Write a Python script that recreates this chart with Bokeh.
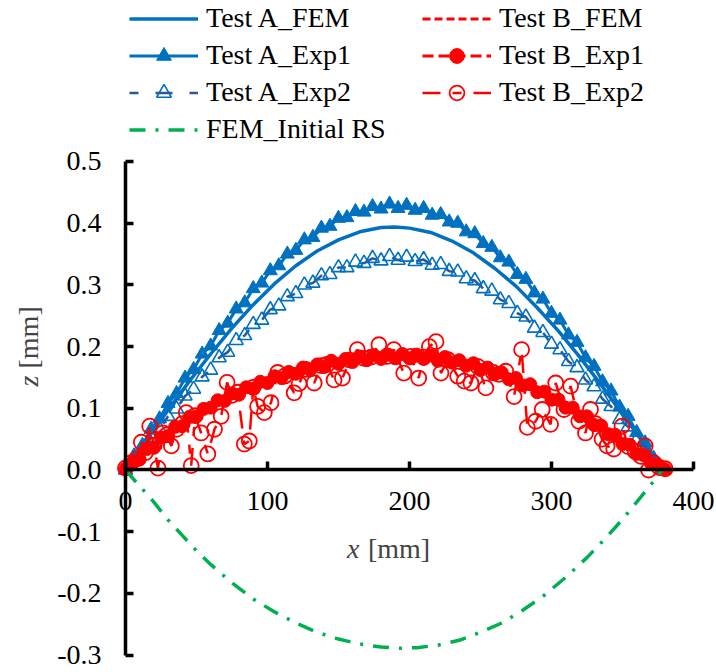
from bokeh.plotting import figure
from bokeh.models import Range1d, FixedTicker, Legend, LegendItem, Label
from bokeh.embed import file_html
from bokeh.resources import INLINE

# ---------------- data ----------------
x_ticks = [0, 100, 200, 300, 400]
y_ticks = [-0.3, -0.2, -0.1, 0.0, 0.1, 0.2, 0.3, 0.4, 0.5]
y_tick_labels = ["-0.3", "-0.2", "-0.1", "0.0", "0.1", "0.2", "0.3", "0.4", "0.5"]

a_fem_x = [0, 15, 30, 45, 60, 75, 90, 105, 120, 135, 150, 165, 180, 190, 200, 215,
           230, 245, 260, 275, 290, 305, 320, 335, 350, 365, 378]
a_fem_y = [0.0, 0.049, 0.097, 0.144, 0.188, 0.230, 0.268, 0.302, 0.331, 0.355, 0.373,
           0.386, 0.393, 0.394, 0.392, 0.385, 0.371, 0.352, 0.327, 0.298, 0.263, 0.225,
           0.183, 0.138, 0.091, 0.043, 0.0]

a_exp_x = [0, 6, 12, 18, 24, 30, 36, 42, 48, 54, 60, 66, 72, 78, 84, 90, 96, 102, 108,
           114, 120, 126, 132, 138, 144, 150, 156, 162, 168, 174, 180, 186, 192, 198,
           204, 210, 216, 222, 228, 234, 240, 246, 252, 258, 264, 270, 276, 282, 288,
           294, 300, 306, 312, 318, 324, 330, 336, 342, 348, 354, 360, 366, 372, 378]
a_exp1_y = [0.0, 0.023, 0.040, 0.066, 0.083, 0.108, 0.124, 0.149, 0.163, 0.188, 0.201,
            0.226, 0.238, 0.261, 0.271, 0.294, 0.303, 0.323, 0.331, 0.350, 0.356, 0.373,
            0.377, 0.392, 0.395, 0.408, 0.409, 0.419, 0.418, 0.427, 0.423, 0.431, 0.424,
            0.429, 0.421, 0.424, 0.413, 0.414, 0.402, 0.400, 0.386, 0.383, 0.367, 0.361,
            0.344, 0.337, 0.317, 0.309, 0.287, 0.277, 0.254, 0.243, 0.219, 0.207, 0.182,
            0.168, 0.143, 0.128, 0.102, 0.087, 0.061, 0.044, 0.019, 0.0]
a_exp2_y = [0.0, 0.018, 0.032, 0.053, 0.066, 0.087, 0.099, 0.120, 0.131, 0.151, 0.162,
            0.182, 0.191, 0.210, 0.218, 0.236, 0.243, 0.260, 0.266, 0.281, 0.286, 0.300,
            0.303, 0.315, 0.317, 0.328, 0.328, 0.337, 0.335, 0.343, 0.339, 0.346, 0.340,
            0.345, 0.338, 0.341, 0.332, 0.333, 0.322, 0.321, 0.310, 0.307, 0.294, 0.290,
            0.276, 0.270, 0.254, 0.248, 0.230, 0.223, 0.204, 0.195, 0.176, 0.166, 0.146,
            0.135, 0.115, 0.103, 0.082, 0.070, 0.049, 0.036, 0.015, 0.0]

b_fem_x = [0, 15, 30, 45, 60, 75, 90, 105, 120, 135, 150, 165, 180, 195, 210, 225, 240,
           255, 270, 285, 300, 315, 330, 345, 360, 372, 380]
b_fem_y = [0.0, 0.030, 0.058, 0.082, 0.103, 0.120, 0.135, 0.148, 0.159, 0.168, 0.175,
           0.180, 0.183, 0.184, 0.183, 0.179, 0.172, 0.162, 0.150, 0.135, 0.117, 0.097,
           0.076, 0.053, 0.029, 0.010, 0.0]

b_exp1_x = [0, 5, 10, 15, 20, 25, 30, 35, 40, 45, 50, 55, 60, 65, 70, 75, 80, 85, 90, 95,
            100, 105, 110, 115, 120, 125, 130, 135, 140, 145, 150, 155, 160, 165, 170,
            175, 180, 185, 190, 195, 200, 205, 210, 215, 220, 225, 230, 235, 240, 245,
            250, 255, 260, 265, 270, 275, 280, 285, 290, 295, 300, 305, 310, 315, 320,
            325, 330, 335, 340, 345, 350, 355, 360, 365, 370, 375, 380]
b_exp1_y = [0.002, 0.012, 0.017, 0.034, 0.036, 0.053, 0.055, 0.070, 0.071, 0.086, 0.087,
            0.099, 0.101, 0.113, 0.112, 0.124, 0.122, 0.134, 0.132, 0.143, 0.141, 0.152,
            0.149, 0.159, 0.156, 0.166, 0.162, 0.171, 0.167, 0.177, 0.172, 0.180, 0.175,
            0.184, 0.178, 0.186, 0.180, 0.187, 0.181, 0.188, 0.181, 0.187, 0.180, 0.186,
            0.177, 0.183, 0.174, 0.178, 0.169, 0.173, 0.162, 0.166, 0.155, 0.158, 0.147,
            0.149, 0.137, 0.139, 0.126, 0.127, 0.114, 0.114, 0.101, 0.101, 0.087, 0.087,
            0.073, 0.072, 0.058, 0.057, 0.042, 0.041, 0.026, 0.024, 0.011, 0.008, 0.001]

b_exp2_x = [0, 4, 8, 11.2, 14, 17.1, 20, 22.9, 26.4, 29, 32.3, 36, 40, 42.8, 46.3, 49,
            53.3, 58, 62.7, 67.4, 71.6, 75, 79, 83.7, 87.2, 90, 93.1, 97.8, 102.5, 107.2,
            112, 118.8, 122.3, 127, 132.9, 138, 142, 146.9, 152.8, 158, 163.3, 168, 173,
            178.5, 184, 189, 196, 201, 206.5, 210, 214, 218.7, 222.2, 227, 234, 238.6,
            243.3, 248, 253.8, 259, 263, 267.8, 273.7, 279, 283, 288.9, 293.5, 299.4,
            303, 308.8, 313.5, 319.3, 324, 327.5, 331, 335.7, 339.2, 343.9, 349.7, 354,
            359, 363, 366, 368.4, 372, 376, 380.1]
b_exp2_y = [0.003, 0.012, 0.018, 0.045, 0.028, 0.071, 0.040, 0.003, 0.060, 0.057, 0.039,
            0.066, 0.075, 0.093, 0.007, 0.088, 0.060, 0.026, 0.066, 0.087, 0.142, 0.121,
            0.126, 0.042, 0.047, 0.134, 0.103, 0.093, 0.109, 0.158, 0.152, 0.125, 0.140,
            0.163, 0.141, 0.169, 0.171, 0.146, 0.149, 0.178, 0.195, 0.181, 0.183, 0.203,
            0.184, 0.195, 0.157, 0.184, 0.149, 0.183, 0.200, 0.208, 0.157, 0.179, 0.152,
            0.144, 0.141, 0.168, 0.133, 0.158, 0.155, 0.160, 0.119, 0.195, 0.069, 0.079,
            0.098, 0.074, 0.141, 0.098, 0.136, 0.079, 0.060, 0.098, 0.075, 0.050, 0.039,
            0.034, 0.071, 0.038, 0.030, 0.022, 0.039, 0.000, 0.012, 0.004, 0.002]

init_x = [0, 10, 20, 30, 40, 50, 60, 75, 90, 105, 120, 135, 150, 165, 180, 193, 205, 220,
          235, 250, 265, 280, 295, 310, 325, 340, 350, 360, 370, 378]
init_y = [0.0, -0.026, -0.052, -0.081, -0.106, -0.131, -0.153, -0.183, -0.209, -0.230,
          -0.248, -0.263, -0.274, -0.282, -0.287, -0.289, -0.288, -0.284, -0.276, -0.263,
          -0.248, -0.227, -0.203, -0.174, -0.142, -0.106, -0.080, -0.052, -0.024, 0.0]

# ---------------- styling ----------------
BLUE = "#0070C0"
DBLUE = "#2F5597"
RED = "#FF0000"
GREEN = "#00B050"
FONT = "Liberation Serif"
QFONT = "'Liberation Serif', 'Times New Roman', serif"
FS = "28px"

p = figure(width=716, height=672, output_backend="svg", toolbar_location=None,
           x_range=Range1d(-88.0, 416.24), y_range=Range1d(-0.3282, 0.7609),
           min_border_left=0, min_border_right=0, min_border_top=0, min_border_bottom=0,
           background_fill_color="white", border_fill_color="white")
p.grid.visible = False
p.outline_line_color = None

for ax in (p.xaxis[0], p.yaxis[0]):
    ax.fixed_location = 0
    ax.axis_line_width = 3.5
    ax.axis_line_color = "black"
    ax.major_tick_line_width = 3.5
    ax.major_tick_line_color = "black"
    ax.major_tick_in = 8
    ax.major_tick_out = 0
    ax.minor_tick_line_color = None
    ax.major_label_text_font = QFONT
    ax.major_label_text_font_size = FS
    ax.major_label_text_color = "black"

p.xaxis.bounds = (x_ticks[0], x_ticks[-1])
p.yaxis.bounds = (y_ticks[0], y_ticks[-1])
p.xaxis.ticker = FixedTicker(ticks=x_ticks)
p.yaxis.ticker = FixedTicker(ticks=y_ticks)
p.yaxis.major_label_overrides = {t: s for t, s in zip(y_ticks, y_tick_labels)}
p.xaxis.major_label_standoff = 22
p.yaxis.major_label_standoff = 24

# ---------------- series ----------------
r_a1_line = p.line(a_exp_x, a_exp1_y, line_color=BLUE, line_width=3)
r_a1_pts = p.scatter(a_exp_x, a_exp1_y, marker="triangle", size=14, fill_color=BLUE,
                     line_color=BLUE, line_width=1)
r_afem = p.line(a_fem_x, a_fem_y, line_color=BLUE, line_width=3.5)
r_a2_line = p.line(a_exp_x, a_exp2_y, line_color=DBLUE, line_width=2.5, line_dash="9 17 17 17")
r_a2_pts = p.scatter(a_exp_x, a_exp2_y, marker="triangle", size=14, fill_alpha=0,
                     line_color=BLUE, line_width=1.6)

r_bfem = p.line(b_fem_x, b_fem_y, line_color=RED, line_width=3, line_dash="8 4")
r_b1_line = p.line(b_exp1_x, b_exp1_y, line_color=RED, line_width=3, line_dash="11 5")
r_b1_pts = p.scatter(b_exp1_x, b_exp1_y, marker="circle", size=13, fill_color=RED,
                     line_color=RED)
r_b2_line = p.line(b_exp2_x, b_exp2_y, line_color=RED, line_width=2.5, line_dash="18 12 9 12")
r_b2_pts = p.scatter(b_exp2_x, b_exp2_y, marker="circle", size=15, fill_alpha=0,
                     line_color=RED, line_width=1.8)

r_init = p.line(init_x, init_y, line_color=GREEN, line_width=3.5, line_dash="16 10 3 10")

# ---------------- legends ----------------
def make_legend(items, loc):
    return Legend(items=items, location=loc, orientation="vertical",
                  padding=0, margin=0, spacing=0,
                  glyph_width=69, glyph_height=37, label_height=37, label_standoff=8,
                  label_text_font=QFONT, label_text_font_size=FS, label_text_color="black",
                  border_line_alpha=0, background_fill_alpha=0)

leg1 = make_legend([
    LegendItem(label="Test A_FEM", renderers=[r_afem]),
    LegendItem(label="Test A_Exp1", renderers=[r_a1_line, r_a1_pts]),
    LegendItem(label="Test A_Exp2", renderers=[r_a2_line, r_a2_pts]),
    LegendItem(label="FEM_Initial RS", renderers=[r_init]),
], (129, 524.5))
leg2 = make_legend([
    LegendItem(label="Test B_FEM", renderers=[r_bfem]),
    LegendItem(label="Test B_Exp1", renderers=[r_b1_line, r_b1_pts]),
    LegendItem(label="Test B_Exp2", renderers=[r_b2_line, r_b2_pts]),
], (422, 561.5))
p.add_layout(leg1)
p.add_layout(leg2)

# ---------------- axis titles ----------------
p.add_layout(Label(x=156.0, y=-0.127, text="x", text_font=FONT, text_font_size=FS,
                   text_font_style="italic", text_align="left", text_baseline="middle"))
p.add_layout(Label(x=170.8, y=-0.127, text="[mm]", text_font=FONT, text_font_size=FS,
                   text_align="left", text_baseline="middle"))
p.add_layout(Label(x=-68.3, y=0.1353, text="z", text_font=FONT, text_font_size=FS,
                   text_font_style="italic", text_align="left", text_baseline="middle",
                   angle=1.5707963))
p.add_layout(Label(x=-68.3, y=0.1645, text="[mm]", text_font=FONT, text_font_size=FS,
                   text_align="left", text_baseline="middle", angle=1.5707963))

open("out.html", "w").write(file_html(p, INLINE))
